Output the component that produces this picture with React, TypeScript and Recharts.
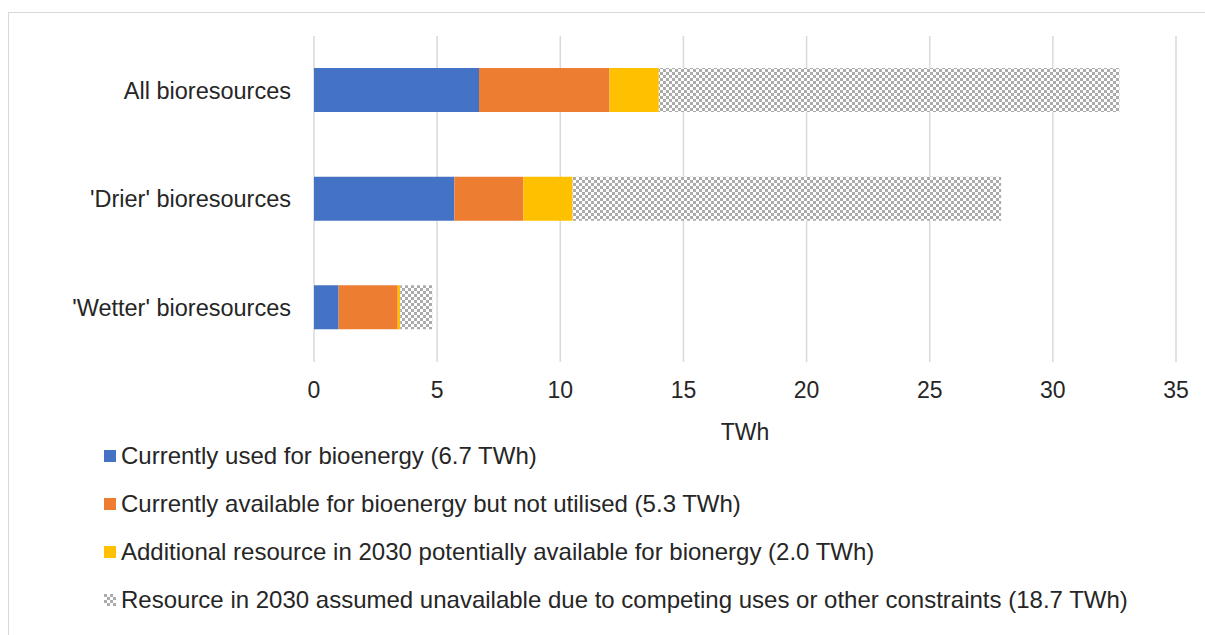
import { BarChart, Bar, XAxis, YAxis, CartesianGrid, Legend } from 'recharts';

const categories = ['All bioresources', "'Drier' bioresources", "'Wetter' bioresources"];
const usedNow = [6.7, 5.7, 1.0];
const availableUnused = [5.3, 2.8, 2.4];
const additional2030 = [2.0, 2.0, 0.1];
const unavailable2030 = [18.7, 17.4, 1.3];
const xTicks = [0, 5, 10, 15, 20, 25, 30, 35];

const seriesNames = [
    'Currently used for bioenergy (6.7 TWh)',
    'Currently available for bioenergy but not utilised (5.3 TWh)',
    'Additional resource in 2030 potentially available for bionergy (2.0 TWh)',
    'Resource in 2030 assumed unavailable due to competing uses or other constraints (18.7 TWh)',
];

const FONT = '"Liberation Sans", Arial, sans-serif';
const TEXT = '#262626';
const GRID = '#d9d9d9';

const data = categories.map((name, i) => ({
    name,
    used: usedNow[i],
    available: availableUnused[i],
    additional: additional2030[i],
    unavailable: unavailable2030[i],
}));

function LegendSwatch({ fill }: { fill: string }) {
    return (
        <svg width={12} height={12} style={{ display: 'block', marginRight: 5 }}>
            <rect width={12} height={12} fill={fill} />
        </svg>
    );
}

// keeps the series order instead of the default alphabetical one
function LegendList({ payload }: any) {
    const items = [...(payload || [])].sort(
        (a: any, b: any) => seriesNames.indexOf(a.value) - seriesNames.indexOf(b.value)
    );
    return (
        <div style={{ fontFamily: FONT, fontSize: 24, color: TEXT, textAlign: 'left' }}>
            {items.map((entry: any) => (
                <div key={entry.value} style={{ display: 'flex', alignItems: 'center', height: 48, whiteSpace: 'nowrap' }}>
                    <LegendSwatch fill={entry.payload?.fill ?? entry.color} />
                    <span>{entry.value}</span>
                </div>
            ))}
        </div>
    );
}

export default function App() {
    return (
        <div style={{ position: 'absolute', left: 0, top: 0, width: 1205, height: 635, overflow: 'hidden', background: '#fff' }}>
            {/* checkerboard fill for the unavailable resource */}
            <svg width={0} height={0} style={{ position: 'absolute' }}>
                <defs>
                    <pattern id="checker" width={6} height={6} patternUnits="userSpaceOnUse">
                        <rect width={6} height={6} fill="#ffffff" />
                        <rect x={0} y={0} width={3} height={3} fill="#ababab" />
                        <rect x={3} y={3} width={3} height={3} fill="#ababab" />
                    </pattern>
                </defs>
            </svg>
            <div style={{ position: 'absolute', left: 8, top: 12, width: 1220, height: 650, border: `1.5px solid ${GRID}` }} />
            <div style={{ position: 'absolute', left: 0, top: 0 }}>
                <BarChart
                    width={1205}
                    height={635}
                    data={data}
                    layout="vertical"
                    margin={{ top: 36, right: 29, bottom: 213, left: 0 }}
                >
                    <CartesianGrid horizontal={false} stroke={GRID} strokeWidth={1.5} />
                    <XAxis
                        type="number"
                        domain={[0, 35]}
                        ticks={xTicks}
                        axisLine={false}
                        tickLine={false}
                        tickMargin={14}
                        tick={{ fill: TEXT, fontSize: 23, fontFamily: FONT }}
                        label={{ value: 'TWh', position: 'bottom', offset: 2, fill: TEXT, fontSize: 23, fontFamily: FONT }}
                        height={60}
                    />
                    <YAxis
                        type="category"
                        dataKey="name"
                        width={314}
                        axisLine={false}
                        tickLine={false}
                        tickMargin={17}
                        tick={{ fill: TEXT, fontSize: 23.5, fontFamily: FONT }}
                    />
                    <Legend
                        layout="horizontal"
                        verticalAlign="middle"
                        align="center"
                        content={<LegendList />}
                        wrapperStyle={{ left: 104, top: 432, width: 1090 }}
                    />
                    <Bar dataKey="used" name={seriesNames[0]} stackId="a" fill="#4472C4" barSize={44} isAnimationActive={false} />
                    <Bar dataKey="available" name={seriesNames[1]} stackId="a" fill="#ED7D31" barSize={44} isAnimationActive={false} />
                    <Bar dataKey="additional" name={seriesNames[2]} stackId="a" fill="#FFC000" barSize={44} isAnimationActive={false} />
                    <Bar dataKey="unavailable" name={seriesNames[3]} stackId="a" fill="url(#checker)" barSize={44} isAnimationActive={false} />
                </BarChart>
            </div>
        </div>
    );
}
